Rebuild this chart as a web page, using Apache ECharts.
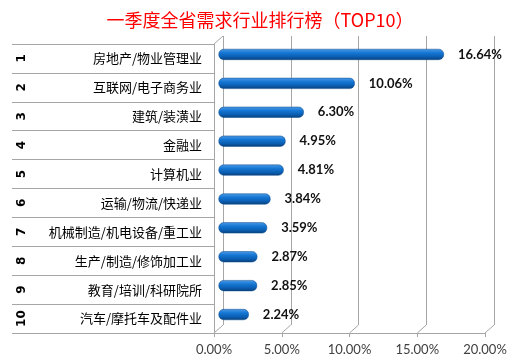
<!DOCTYPE html>
<html><head><meta charset="utf-8">
<script src="https://cdn.jsdelivr.net/npm/echarts@6/dist/echarts.min.js"></script>
<style>html,body{margin:0;padding:0;background:#fff}#c{width:520px;height:360px}</style>
</head><body><div id="c"></div>
<script>
var titleText = '一季度全省需求行业排行榜（TOP10）';
var ranks = ['1','2','3','4','5','6','7','8','9','10'];
var categories = ['房地产/物业管理业','互联网/电子商务业','建筑/装潢业','金融业','计算机业','运输/物流/快递业','机械制造/机电设备/重工业','生产/制造/修饰加工业','教育/培训/科研院所','汽车/摩托车及配件业'];
var values = [16.64, 10.06, 6.30, 4.95, 4.81, 3.84, 3.59, 2.87, 2.85, 2.24];
var xTicks = [0, 5, 10, 15, 20];

var lineColor = '#a6a6a6';
var chart = echarts.init(document.getElementById('c'));
chart.setOption({
  animation: false,
  title: {text: titleText, left: 'center', top: 6,
    textStyle: {color: '#ff0000', fontSize: 18, fontWeight: 'normal', fontFamily: 'Noto Sans CJK SC'}},
  grid: [
    {left: 214, right: 35, top: 44, bottom: 27},
    {left: 223, right: 26, top: 36, bottom: 35},
    {left: 218.5, right: 30.5, top: 40, bottom: 31}
  ],
  xAxis: [
    {gridIndex: 0, type: 'value', min: xTicks[0], max: xTicks[xTicks.length-1], interval: 5,
      axisLine: {show: true, lineStyle: {color: lineColor}},
      axisTick: {show: true, length: 4, lineStyle: {color: lineColor}},
      splitLine: {show: false},
      axisLabel: {margin: 10, color: '#404040', fontSize: 13, fontFamily: 'Lato',
        formatter: function (v) { return v.toFixed(2) + '%'; }}},
    {gridIndex: 1, type: 'value', min: xTicks[0], max: xTicks[xTicks.length-1], interval: 5,
      axisLine: {show: false}, axisTick: {show: false}, axisLabel: {show: false},
      splitLine: {show: true, lineStyle: {color: lineColor}}},
    {gridIndex: 2, type: 'value', min: xTicks[0], max: xTicks[xTicks.length-1], interval: 5, show: false}
  ],
  yAxis: [
    {gridIndex: 0, type: 'category', data: categories, inverse: true,
      axisLine: {show: true, lineStyle: {color: lineColor}},
      axisTick: {show: true, length: 202, lineStyle: {color: lineColor}},
      axisLabel: {margin: 12, color: '#000', fontSize: 13, fontFamily: 'Noto Sans CJK SC'}},
    {gridIndex: 0, type: 'category', data: ranks, inverse: true, position: 'left',
      axisLine: {show: false}, axisTick: {show: false},
      axisLabel: {rotate: 90, margin: 186, color: '#000', fontSize: 12, fontWeight: 'bold', fontFamily: 'DejaVu Sans'}},
    {gridIndex: 1, type: 'category', data: ranks, show: false},
    {gridIndex: 2, type: 'category', data: categories, inverse: true, show: false}
  ],
  series: [{
    type: 'bar', xAxisIndex: 2, yAxisIndex: 3, data: values, barWidth: 11,
    itemStyle: {
      borderRadius: 5,
      borderColor: '#0a4a8c', borderWidth: 0.5,
      color: new echarts.graphic.LinearGradient(0, 0, 0, 1, [
        {offset: 0, color: '#4f9be6'},
        {offset: 0.35, color: '#1577d4'},
        {offset: 0.7, color: '#0b5fb3'},
        {offset: 1, color: '#083f7a'}
      ])
    },
    label: {show: true, position: 'right', distance: 14, color: '#111', fontSize: 13, fontWeight: 'bold',
      fontFamily: 'Lato', formatter: function (p) { return p.value.toFixed(2) + '%'; }}
  }]
});

// 3D wall connectors between front axis and back wall
var gfx = [];
xTicks.forEach(function (v) {
  var fx = chart.convertToPixel({xAxisIndex: 0}, v);
  var bx = chart.convertToPixel({xAxisIndex: 1}, v);
  gfx.push({type: 'line', shape: {x1: fx, y1: 333, x2: bx, y2: 325}, style: {stroke: lineColor, lineWidth: 1}});
});
var f0 = chart.convertToPixel({xAxisIndex: 0}, 0);
var b0 = chart.convertToPixel({xAxisIndex: 1}, 0);
gfx.push({type: 'line', shape: {x1: f0, y1: 44, x2: b0, y2: 36}, style: {stroke: lineColor, lineWidth: 1}});
chart.setOption({graphic: gfx});
</script>
</body></html>
